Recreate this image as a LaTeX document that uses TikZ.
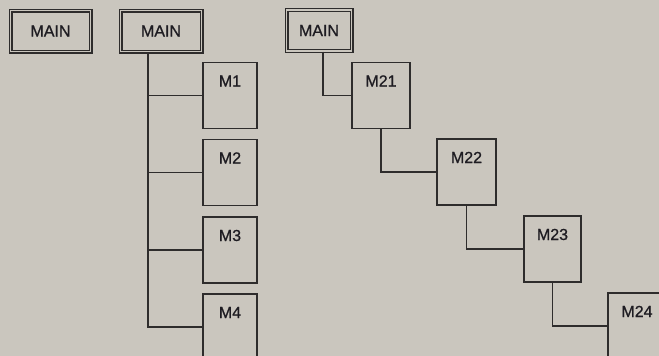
\documentclass[tikz,border=0pt]{standalone}
\usepackage{fontspec}
\setmainfont{Liberation Sans}[BoldFont={Liberation Sans}, BoldFeatures={FakeBold=0.9}]
\definecolor{bgc}{HTML}{CAC6BE}
\definecolor{linec}{HTML}{2E2C2C}
\definecolor{txtc}{HTML}{1E1C22}
\begin{document}
\begin{tikzpicture}[x=1pt,y=-1pt,
  mainbox/.style={draw=linec, double=bgc, double distance=1.6pt, line width=1.2pt,
    minimum height=41pt, inner sep=0pt, text=txtc, font=\fontsize{16}{16}\selectfont\bfseries},
  modbox/.style={draw=linec, line width=1.4pt, inner xsep=0pt, inner ysep=0pt,
    text height=24pt, text depth=42pt, text=txtc, font=\fontsize{16}{16}\selectfont\bfseries},
  conn/.style={draw=linec, line width=1.25pt}]
\useasboundingbox (0,0) rectangle (659,356);
\clip (0,0) rectangle (659,356);
\fill[bgc] (0,0) rectangle (659,356);

% MAIN boxes
\node[mainbox, minimum width=80pt] (main1) at (50.5,31) {MAIN};
\node[mainbox, minimum width=81pt] (main2) at (161,31) {MAIN};
\node[mainbox, minimum width=65pt] (main3) at (319,30.5) {MAIN};

% stacked modules
\node[modbox, minimum width=54pt] (m1) at (230,95.5) {M1};
\node[modbox, minimum width=54pt] (m2) at (230,172.5) {M2};
\node[modbox, minimum width=54pt] (m3) at (230,250) {M3};
\node[modbox, minimum width=54pt] (m4) at (230,327) {M4};

% chained modules
\node[modbox, minimum width=58pt] (m21) at (381,95.5) {M21};
\node[modbox, minimum width=59pt] (m22) at (466.5,172) {M22};
\node[modbox, minimum width=57pt] (m23) at (552.5,249) {M23};
\node[modbox, minimum width=58pt] (m24) at (637,326) {M24};

% connectors, middle structure
\coordinate (trunk) at (148,327);
\draw[conn] (main2.south -| trunk) -- (trunk) -- (m4.west);
\draw[conn] (m1.west) -- (m1.west -| trunk);
\draw[conn] (m2.west) -- (m2.west -| trunk);
\draw[conn] (m3.west) -- (m3.west -| trunk);

% connectors, chain
\draw[conn] ([xshift=4pt]main3.south) |- (m21.west);
\draw[conn] (m21.south) |- (m22.west);
\draw[conn] (m22.south) |- (m23.west);
\draw[conn] (m23.south) |- (m24.west);
\end{tikzpicture}
\end{document}
